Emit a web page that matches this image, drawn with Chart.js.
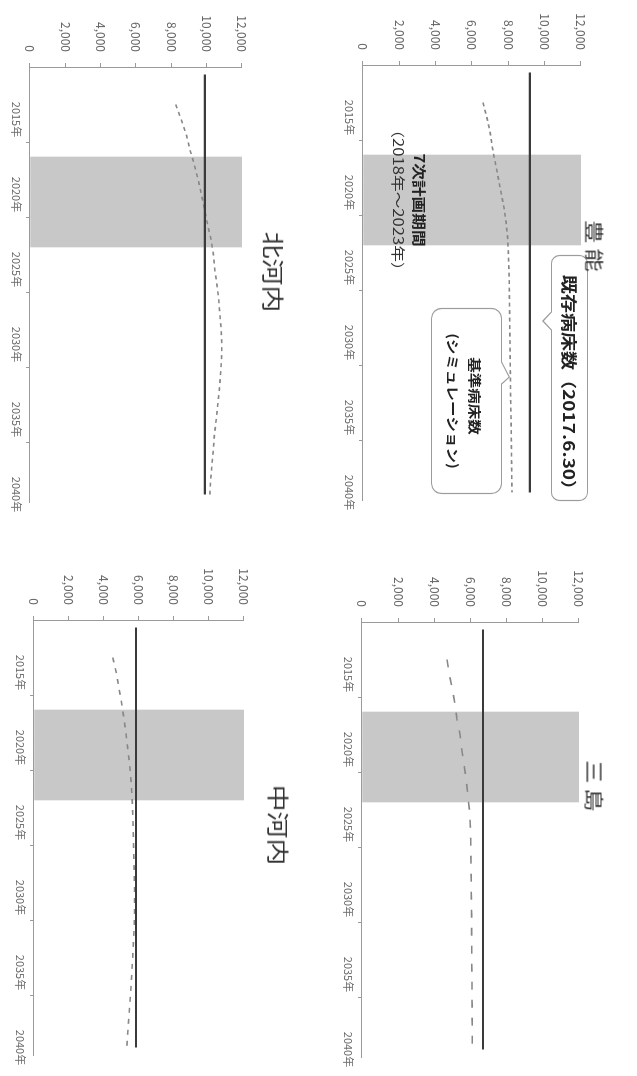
<!DOCTYPE html>
<html lang="ja">
<head>
<meta charset="utf-8">
<title>基準病床数と既存病床数の推移</title>
<script src="https://cdn.jsdelivr.net/npm/chart.js@4.4.1/dist/chart.umd.min.js"></script>
<style>
  html, body { margin: 0; padding: 0; background: #fff; overflow: hidden; }
  /* the sheet is laid out landscape and turned a quarter turn clockwise */
  #sheet {
    position: absolute; left: 0; top: 0;
    width: 1076px; height: 637px;
    background: #fff;
    transform-origin: 0 0;
    transform: translate(637px, 0) rotate(90deg);
  }
  #sheet canvas { position: absolute; display: block; }
  .title {
    position: absolute;
    font-family: 'Noto Sans CJK JP', sans-serif;
    color: #333;
    white-space: nowrap;
    line-height: 1;
    transform: translate(-50%, -50%) scaleX(1.22);
  }
</style>
</head>
<body>
<div id="sheet">
  <canvas id="c0" width="530" height="310"></canvas>
  <canvas id="c1" width="536" height="310"></canvas>
  <canvas id="c2" width="530" height="297"></canvas>
  <canvas id="c3" width="536" height="297"></canvas>
  <div class="title" id="t0"></div>
  <div class="title" id="t1"></div>
  <div class="title" id="t2"></div>
  <div class="title" id="t3"></div>
</div>
<script>
// ---- data ----
const years = [2012, 2013, 2014, 2015, 2016, 2017, 2018, 2019, 2020, 2021,
               2022, 2023, 2024, 2025, 2026, 2027, 2028, 2029, 2030, 2031,
               2032, 2033, 2034, 2035, 2036, 2037, 2038, 2039, 2040];
const yearTicks = ['2015年', '2020年', '2025年', '2030年', '2035年', '2040年'];
const valueTicks = [0, 2000, 4000, 6000, 8000, 10000, 12000];
const planYears = [2018, 2019, 2020, 2021, 2022, 2023];

const regions = ['豊 能', '三 島', '北河内', '中河内'];
// 既存病床数 (2017.6.30)
const existingBeds = [9190, 6690, 9900, 5830];

// 基準病床数 (シミュレーション), 2014 - 2040
const stdFirstYear = 2014;
const toyonoStd = [6600, 6820, 7000, 7120, 7280, 7440, 7600, 7760, 7880, 7960,
                   8000, 8030, 8050, 8060, 8070, 8080, 8090, 8100, 8110, 8120,
                   8130, 8150, 8160, 8170, 8180, 8190, 8200];
const mishimaStd = [4700, 4830, 5000, 5150, 5250, 5420, 5520, 5640, 5760, 5850,
                    5940, 5990, 6010, 6020, 6030, 6040, 6050, 6060, 6060, 6070,
                    6070, 6080, 6080, 6090, 6090, 6100, 6100];
const kitakawachiStd = [8250, 8560, 8850, 9050, 9300, 9520, 9700, 9890, 10050, 10250,
                        10380, 10460, 10580, 10680, 10750, 10820, 10860, 10840, 10780, 10720,
                        10630, 10540, 10440, 10380, 10300, 10230, 10180];
const nakakawachiStd = [4500, 4700, 4850, 5000, 5130, 5250, 5350, 5450, 5530, 5590,
                        5630, 5660, 5680, 5700, 5720, 5740, 5750, 5750, 5720, 5680,
                        5640, 5590, 5540, 5480, 5420, 5360, 5300];
const stdSeries = [toyonoStd, mishimaStd, kitakawachiStd, nakakawachiStd];

// ---- layout of the four panels (sheet coordinates) ----
const panels = [
  { left: 0,   top: 0,   padTop: 56, padRight: 30, yw: 65, xh: 36, dash: [4, 3.5] },
  { left: 540, top: 0,   padTop: 58, padRight: 19, yw: 82, xh: 35, dash: [8, 10] },
  { left: 0,   top: 340, padTop: 55, padRight: 28, yw: 67, xh: 30, dash: [4, 4] },
  { left: 540, top: 340, padTop: 53, padRight: 21, yw: 80, xh: 34, dash: [5, 6] }
];
const titleStyle = [
  { x: 246, y: 42,  size: 19 },
  { x: 786, y: 42,  size: 19 },
  { x: 272, y: 362, size: 22 },
  { x: 825, y: 357, size: 22 }
];

const FONT = "'Noto Sans CJK JP', 'DejaVu Sans', sans-serif";
Chart.defaults.font.family = FONT;
const AXIS = '#9a9a9a';
const categories = years.map(y => y + '年');
const tickBoundaries = [5, 10, 15, 20, 25];   // category edges carrying a tick mark

function stretchedText(ctx, text, x, y, font, color, sx) {
  ctx.save();
  ctx.font = font;
  ctx.fillStyle = color;
  ctx.textAlign = 'center';
  ctx.textBaseline = 'middle';
  ctx.translate(x, y);
  ctx.scale(sx, 1);
  ctx.fillText(text, 0, 0);
  ctx.restore();
}

function calloutPath(ctx, x, y, w, h, r, side, p1, p2, tipX, tipY) {
  ctx.beginPath();
  ctx.moveTo(x + r, y);
  if (side === 'top') { ctx.lineTo(p1, y); ctx.lineTo(tipX, tipY); ctx.lineTo(p2, y); }
  ctx.lineTo(x + w - r, y);
  ctx.arcTo(x + w, y, x + w, y + r, r);
  ctx.lineTo(x + w, y + h - r);
  ctx.arcTo(x + w, y + h, x + w - r, y + h, r);
  if (side === 'bottom') { ctx.lineTo(p2, y + h); ctx.lineTo(tipX, tipY); ctx.lineTo(p1, y + h); }
  ctx.lineTo(x + r, y + h);
  ctx.arcTo(x, y + h, x, y + h - r, r);
  ctx.lineTo(x, y + r);
  ctx.arcTo(x, y, x + r, y, r);
  ctx.closePath();
}

// notes on the first panel: plan period label and the two callouts
const periodNotes = {
  id: 'periodNotes',
  afterDatasetsDraw(chart) {
    const ctx = chart.ctx;
    const xs = chart.scales.x, ys = chart.scales.y;
    const i0 = years.indexOf(planYears[0]);
    const i1 = years.indexOf(planYears[planYears.length - 1]);
    const cx = (xs.getPixelForValue(i0) + xs.getPixelForValue(i1)) / 2;
    const bottom = chart.chartArea.bottom;
    stretchedText(ctx, '7次計画期間', cx, bottom - 56, "bold 14px " + FONT, '#222', 1.19);
    stretchedText(ctx, '（2018年～2023年）', cx, bottom - 35, "14px " + FONT, '#333', 1.19);

    ctx.save();
    ctx.lineWidth = 1.2;
    ctx.strokeStyle = '#9c9c9c';
    ctx.fillStyle = '#fff';

    // 既存病床数 callout, pointing at the solid line
    const exTipY = ys.getPixelForValue(existingBeds[0]) - 13;
    calloutPath(ctx, 255.5, 49.5, 245, 36, 8, 'bottom', 312, 330, 321, exTipY);
    ctx.fill(); ctx.stroke();

    // 基準病床数 callout, pointing at the dashed line
    const tipX = 377;
    const tipYear = Math.round(xs.getValueForPixel(tipX));
    const stTipY = ys.getPixelForValue(toyonoStd[years[tipYear] - stdFirstYear]) + 1;
    calloutPath(ctx, 308.5, 135.5, 185, 70, 10, 'top', 362, 384, tipX, stTipY);
    ctx.fill(); ctx.stroke();
    ctx.restore();

    stretchedText(ctx, '既存病床数（2017.6.30）', 387, 68, "bold 16px " + FONT, '#222', 1.19);
    stretchedText(ctx, '基準病床数', 396, 162, "bold 13px " + FONT, '#222', 1.19);
    stretchedText(ctx, '(シミュレーション)', 401, 184, "bold 13px " + FONT, '#222', 1.19);
  }
};

function buildChart(idx) {
  const p = panels[idx];
  const canvas = document.getElementById('c' + idx);
  canvas.style.left = p.left + 'px';
  canvas.style.top = p.top + 'px';

  const existing = years.map(() => existingBeds[idx]);
  const std = years.map(y => (y < stdFirstYear ? null : stdSeries[idx][y - stdFirstYear]));
  const band = years.map(y => (planYears.includes(y) ? valueTicks[valueTicks.length - 1] : null));

  return new Chart(canvas.getContext('2d'), {
    type: 'bar',
    data: {
      labels: categories,
      datasets: [
        { type: 'line', label: '既存病床数', data: existing, borderColor: '#3a3a3a',
          borderWidth: 2.2, pointRadius: 0, order: 1 },
        { type: 'line', label: '基準病床数', data: std, borderColor: '#878787',
          borderWidth: 1.6, borderDash: p.dash, pointRadius: 0, order: 2, spanGaps: false },
        { type: 'bar', label: '7次計画期間', data: band, backgroundColor: '#c8c8c8',
          barPercentage: 1, categoryPercentage: 1, order: 3 }
      ]
    },
    options: {
      responsive: false,
      animation: false,
      devicePixelRatio: 1,
      events: [],
      layout: { padding: { left: 0, right: p.padRight, top: p.padTop, bottom: 0 } },
      plugins: { legend: { display: false }, tooltip: { enabled: false }, title: { display: false } },
      scales: {
        x: {
          offset: true,
          grid: {
            offset: true, drawOnChartArea: false, drawTicks: true, tickLength: 4, lineWidth: 1,
            color: c => (tickBoundaries.includes(c.index) ? AXIS : 'rgba(0,0,0,0)')
          },
          border: { display: true, color: AXIS, width: 1 },
          ticks: {
            autoSkip: false, maxRotation: 0, minRotation: 0, padding: 3,
            color: '#666', font: { size: 11 },
            callback: (v, i) => (yearTicks.includes(categories[i]) ? categories[i] : '')
          },
          afterFit: s => { s.height = p.xh; }
        },
        y: {
          min: valueTicks[0],
          max: valueTicks[valueTicks.length - 1],
          afterBuildTicks: s => { s.ticks = valueTicks.map(v => ({ value: v })); },
          grid: { drawOnChartArea: false, drawTicks: true, tickLength: 4, color: AXIS },
          border: { display: true, color: AXIS, width: 1 },
          ticks: {
            padding: 11, color: '#666', font: { size: 12 },
            callback: v => Number(v).toLocaleString('en-US')
          },
          afterFit: s => { s.width = p.yw; }
        }
      }
    },
    plugins: idx === 0 ? [periodNotes] : []
  });
}

regions.forEach((name, i) => {
  const t = document.getElementById('t' + i);
  t.textContent = name;
  t.style.left = titleStyle[i].x + 'px';
  t.style.top = titleStyle[i].y + 'px';
  t.style.fontSize = titleStyle[i].size + 'px';
  buildChart(i);
});
</script>
</body>
</html>
